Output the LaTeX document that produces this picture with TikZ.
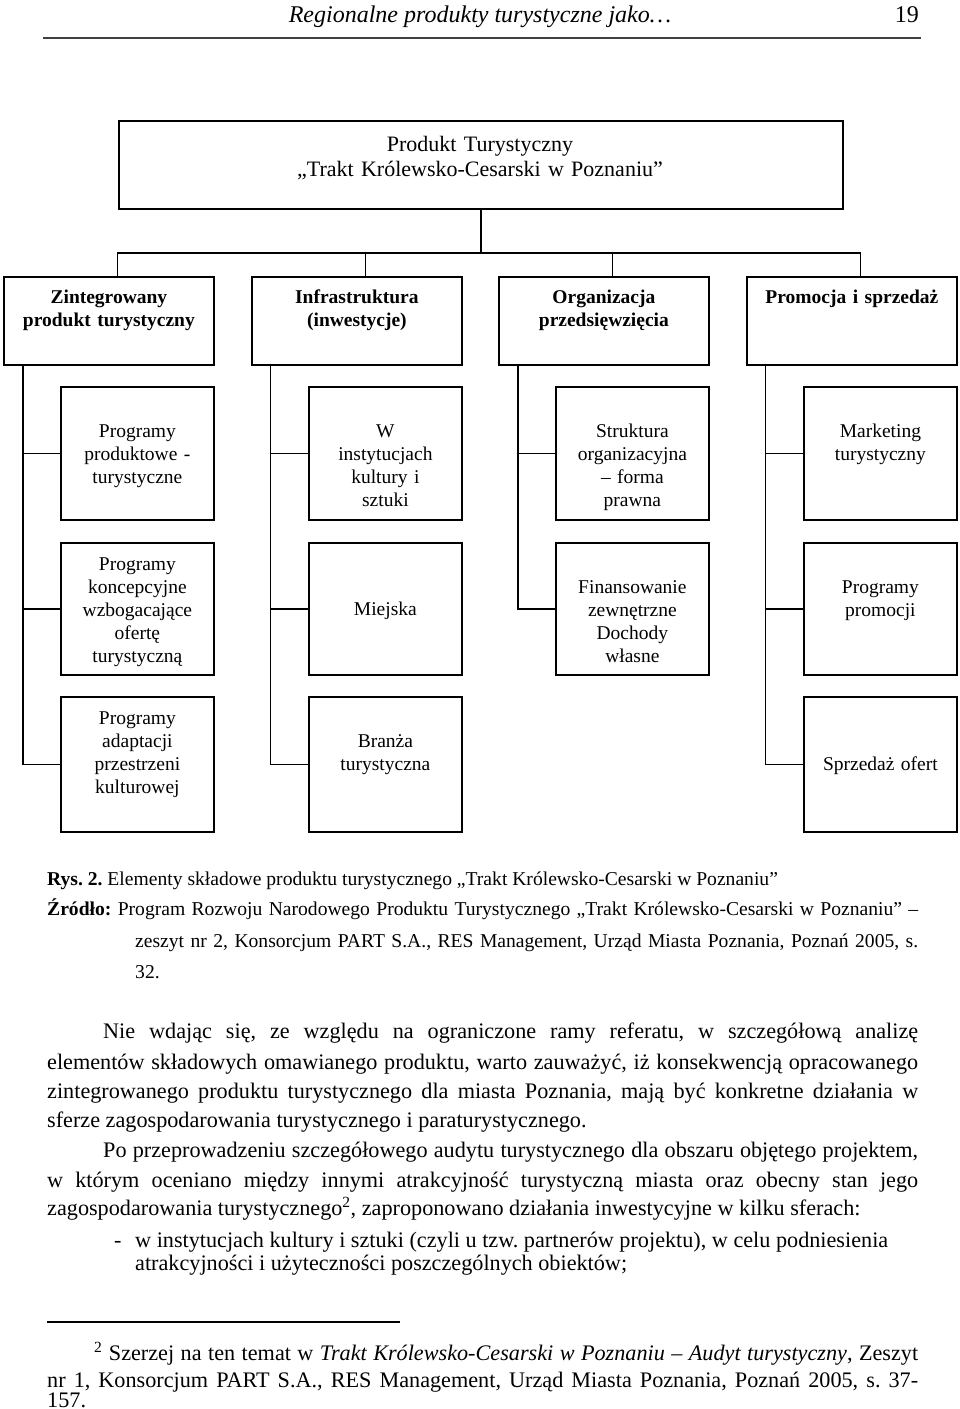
\documentclass[tikz,border=0pt]{standalone}
\usepackage{fontspec}
\setmainfont{Liberation Serif}
\frenchspacing
\newcommand\mybox{\fontsize{19.5}{23}\selectfont}
\newcommand\mybody{\fontsize{22.2}{29.5}\selectfont}
\newcommand\mycap{\fontsize{19.6}{23}\selectfont}
\begin{document}
\begin{tikzpicture}[x=1pt,y=-1pt,
  frame/.style={draw, line width=1.8pt, anchor=north west, inner sep=0pt},
  lvl/.style={frame, minimum width=210pt, minimum height=88pt},
  cell/.style={frame, minimum width=153pt, minimum height=133pt},
  btxt/.style={anchor=base, inner sep=0pt, text width=200pt, align=center, font=\mybox\bfseries},
  ctxt/.style={anchor=base, inner sep=0pt, text width=150pt, align=center, font=\mybox},
  conn/.style={line width=1.8pt},
  line/.style={anchor=base west, inner sep=0pt}]
\useasboundingbox (0,0) rectangle (960,1409);

% running head
\node[anchor=base, inner sep=0pt, font=\fontsize{24}{28}\selectfont\itshape] (head) at (480,22) {Regionalne produkty turystyczne jako…};
\node[anchor=base east, inner sep=0pt, font=\fontsize{24}{28}\selectfont] (pno) at (919,22) {19};
\draw[line width=2pt, black!75] (43,38) -- (921,38);

% top box
\node[frame, minimum width=724pt, minimum height=88pt] (top) at (118,120) {};
\node[anchor=base, inner sep=0pt, text width=700pt, align=center, font=\fontsize{22}{25}\selectfont] (toptxt) at (480,151) {Produkt Turystyczny\\„Trakt Królewsko-Cesarski w Poznaniu”};

% level 1
\node[lvl] (l1) at (3,276) {};
\node[lvl] (l2) at (251,276) {};
\node[lvl] (l3) at (498,276) {};
\node[lvl] (l4) at (746,276) {};
\node[btxt] (l1t) at (l1.north |- 0,303) {Zintegrowany\\produkt turystyczny};
\node[btxt] (l2t) at (l2.north |- 0,303) {Infrastruktura\\(inwestycje)};
\node[btxt] (l3t) at (l3.north |- 0,303) {Organizacja\\przedsięwzięcia};
\node[btxt] (l4t) at (l4.north |- 0,303) {Promocja i sprzedaż};

% rows
\node[cell] (a1) at (60,386) {};
\node[cell] (a2) at (308,386) {};
\node[cell] (a3) at (555,386) {};
\node[cell] (a4) at (803,386) {};
\node[cell, minimum height=132pt] (b1) at (60,542) {};
\node[cell, minimum height=132pt] (b2) at (308,542) {};
\node[cell, minimum height=132pt] (b3) at (555,542) {};
\node[cell, minimum height=132pt] (b4) at (803,542) {};
\node[cell, minimum height=135pt] (c1) at (60,696) {};
\node[cell, minimum height=135pt] (c2) at (308,696) {};
\node[cell, minimum height=135pt] (c4) at (803,696) {};

\node[ctxt] (a1t) at (a1.north |- 0,437) {Programy\\produktowe -\\turystyczne};
\node[ctxt] (a2t) at (a2.north |- 0,437) {W\\instytucjach\\kultury i\\sztuki};
\node[ctxt] (a3t) at (a3.north |- 0,437) {Struktura\\organizacyjna\\– forma\\prawna};
\node[ctxt] (a4t) at (a4.north |- 0,437) {Marketing\\turystyczny};
\node[ctxt] (b1t) at (b1.north |- 0,570) {Programy\\koncepcyjne\\wzbogacające\\ofertę\\turystyczną};
\node[ctxt] (b2t) at (b2.north |- 0,615) {Miejska};
\node[ctxt] (b3t) at (b3.north |- 0,593) {Finansowanie\\zewnętrzne\\Dochody\\własne};
\node[ctxt] (b4t) at (b4.north |- 0,593) {Programy\\promocji};
\node[ctxt] (c1t) at (c1.north |- 0,724) {Programy\\adaptacji\\przestrzeni\\kulturowej};
\node[ctxt] (c2t) at (c2.north |- 0,747) {Branża\\turystyczna};
\node[ctxt] (c4t) at (c4.north |- 0,770) {Sprzedaż ofert};

% connectors top -> level 1
\coordinate (bar) at (top.south |- 0,253);
\coordinate (d1) at ([xshift=114.5pt]l1.north west);
\coordinate (d2) at ([xshift=114.5pt]l2.north west);
\coordinate (d3) at ([xshift=114.5pt]l3.north west);
\coordinate (d4) at ([xshift=114.5pt]l4.north west);
\draw[conn] (top.south) -- (bar);
\draw[conn] (d1) -- (d1 |- bar) -- (d4 |- bar) -- (d4);
\draw[conn] (d2) -- (d2 |- bar);
\draw[conn] (d3) -- (d3 |- bar);

% connectors level 1 -> cells
\coordinate (v1) at ([xshift=20pt]l1.south west);
\coordinate (v2) at ([xshift=19.5pt]l2.south west);
\coordinate (v3) at ([xshift=20pt]l3.south west);
\coordinate (v4) at ([xshift=19.5pt]l4.south west);
\draw[conn] (v1) |- (c1.west);
\draw[conn] (a1.west) -- (a1.west -| v1);
\draw[conn] (b1.west) -- (b1.west -| v1);
\draw[conn] (v2) |- (c2.west);
\draw[conn] (a2.west) -- (a2.west -| v2);
\draw[conn] (b2.west) -- (b2.west -| v2);
\draw[conn] (v3) |- (b3.west);
\draw[conn] (a3.west) -- (a3.west -| v3);
\draw[conn] (v4) |- (c4.west);
\draw[conn] (a4.west) -- (a4.west -| v4);
\draw[conn] (b4.west) -- (b4.west -| v4);

% caption
\node[line, font=\mycap] (cap1) at (47,885) {\textbf{Rys. 2.} Elementy składowe produktu turystycznego „Trakt Królewsko-Cesarski w Poznaniu”};
\node[line, font=\mycap] (cap2) at (47,915) {\makebox[871pt][s]{\textbf{Źródło:} Program Rozwoju Narodowego Produktu Turystycznego „Trakt Królewsko-Cesarski w Poznaniu” –}};
\node[line, font=\mycap] (cap3) at (135,947) {\makebox[783pt][s]{zeszyt nr 2, Konsorcjum PART S.A., RES Management, Urząd Miasta Poznania, Poznań 2005, s.}};
\node[line, font=\mycap] (cap4) at (135,978) {32.};

% body text
\node[line, font=\mybody] (p1) at (103,1038) {\makebox[815pt][s]{Nie wdając się, ze względu na ograniczone ramy referatu, w szczegółową analizę}};
\node[line, font=\mybody] (p2) at (47,1069) {\makebox[871pt][s]{elementów składowych omawianego produktu, warto zauważyć, iż konsekwencją opracowanego}};
\node[line, font=\mybody] (p3) at (47,1098) {\makebox[871pt][s]{zintegrowanego produktu turystycznego dla miasta Poznania, mają być konkretne działania w}};
\node[line, font=\mybody] (p4) at (47,1127) {sferze zagospodarowania turystycznego i paraturystycznego.};
\node[line, font=\mybody] (p5) at (103,1157) {\makebox[815pt][s]{Po przeprowadzeniu szczegółowego audytu turystycznego dla obszaru objętego projektem,}};
\node[line, font=\mybody] (p6) at (47,1187) {\makebox[871pt][s]{w którym oceniano między innymi atrakcyjność turystyczną miasta oraz obecny stan jego}};
\node[line, font=\mybody] (p7) at (47,1215) {zagospodarowania turystycznego\textsuperscript{2}, zaproponowano działania inwestycyjne w kilku sferach:};
\node[line, font=\mybody] (p8d) at (114,1247) {-};
\node[line, font=\mybody] (p8) at (135,1247) {\makebox[753pt][s]{w instytucjach kultury i sztuki (czyli u tzw. partnerów projektu), w celu podniesienia}};
\node[line, font=\mybody] (p9) at (135,1270) {atrakcyjności i użyteczności poszczególnych obiektów;};

% footnote
\draw[line width=1.5pt] (47,1322) -- (400,1322);
\node[line, font=\mybody] (f1) at (94,1360) {\makebox[824pt][s]{\textsuperscript{2} Szerzej na ten temat w \textit{Trakt Królewsko-Cesarski w Poznaniu – Audyt turystyczny}, Zeszyt}};
\node[line, font=\mybody] (f2) at (47,1387) {\makebox[871pt][s]{nr 1, Konsorcjum PART S.A., RES Management, Urząd Miasta Poznania, Poznań 2005, s. 37-}};
\node[line, font=\mybody] (f3) at (47,1407) {157.};
\end{tikzpicture}
\end{document}
